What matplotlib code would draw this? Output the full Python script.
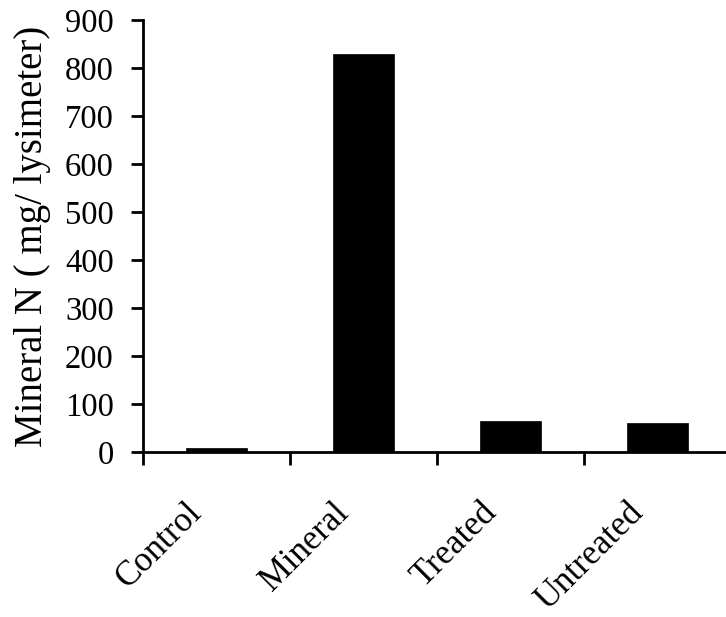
import matplotlib
matplotlib.use("Agg")
import matplotlib.pyplot as plt
import numpy as np

categories = ["Control", "Mineral", "Treated", "Untreated"]
mineral_n = [8, 830, 65, 60]
y_ticks = [0, 100, 200, 300, 400, 500, 600, 700, 800, 900]

plt.rcParams["font.family"] = ["Liberation Serif", "DejaVu Serif"]

fig = plt.figure(figsize=(7.26, 6.17), dpi=100)
ax = fig.add_axes([143 / 726, 1 - 452 / 617, 588 / 726, 432 / 617])

x = np.arange(len(categories)) + 0.5
ax.bar(x, mineral_n, width=0.42, color="black", edgecolor="black", linewidth=0.5)

ax.set_xlim(0, len(categories))
ax.set_ylim(0, 900)
ax.set_yticks(y_ticks)
ax.set_yticklabels([str(v) for v in y_ticks], fontsize=23.5)

ax.set_xticks(np.arange(len(categories)))
ax.set_xticklabels([])
ax.tick_params(axis="x", direction="out", length=9, width=2)
ax.tick_params(axis="y", direction="out", length=9, width=2, pad=12)

for xi, name in zip(x, categories):
    ax.text(xi - 0.21, -92, name, rotation=45, ha="right", va="top",
            rotation_mode="anchor", fontsize=25, transform=ax.transData,
            clip_on=False)

for side in ("top", "right"):
    ax.spines[side].set_visible(False)
for side in ("left", "bottom"):
    ax.spines[side].set_linewidth(2)

ax.set_ylabel("Mineral N ( mg/ lysimeter)", fontsize=28, labelpad=10)

fig.savefig("out.png", dpi=100)
